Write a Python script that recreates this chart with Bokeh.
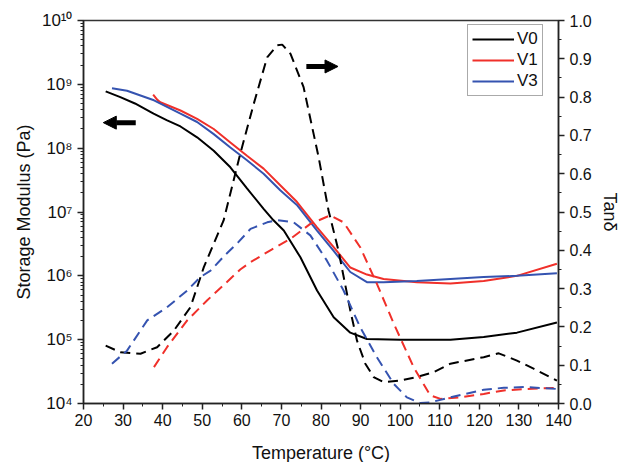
from bokeh.plotting import figure
from bokeh.models import (Range1d, LinearAxis, Legend, LegendItem, Arrow, NormalHead,
                          FixedTicker, LinearScale)
from bokeh.embed import file_html
from bokeh.resources import INLINE

# ---- Storage modulus (log10 Pa) ----
v0_T = [25.6, 29.3, 33.0, 37.7, 41.0, 44.5, 48.7, 52.9, 57.1, 61.3, 65.5, 68.0, 70.6, 74.8, 79.0, 83.2, 87.4, 91.6, 100.0, 112.7, 121.1, 129.5, 139.6]
v0_G = [8.89, 8.80, 8.70, 8.54, 8.44, 8.34, 8.17, 7.96, 7.70, 7.37, 7.05, 6.87, 6.71, 6.29, 5.77, 5.35, 5.11, 5.01, 5.00, 5.00, 5.04, 5.11, 5.27]

v1_T = [37.6, 38.6, 39.4, 44.5, 48.7, 52.9, 57.1, 61.3, 65.5, 69.7, 73.9, 79.0, 83.2, 87.4, 91.6, 95.8, 104.2, 112.7, 121.1, 129.5, 139.6]
v1_G = [8.84, 8.76, 8.72, 8.59, 8.46, 8.30, 8.09, 7.88, 7.68, 7.42, 7.16, 6.76, 6.45, 6.13, 6.02, 5.95, 5.90, 5.88, 5.92, 6.00, 6.19]

v3_T = [27.2, 31.0, 37.8, 44.5, 48.7, 52.9, 57.1, 61.3, 65.5, 69.7, 73.9, 79.0, 83.2, 87.4, 91.6, 95.8, 104.2, 112.7, 121.1, 129.5, 139.6]
v3_G = [8.94, 8.90, 8.75, 8.54, 8.41, 8.22, 8.01, 7.81, 7.60, 7.34, 7.11, 6.71, 6.39, 6.06, 5.90, 5.90, 5.92, 5.95, 5.98, 6.00, 6.04]

# ---- Tan delta ----
t0_T = [25.6, 29.3, 34.4, 38.6, 42.8, 47.0, 50.4, 55.4, 59.6, 63.0, 66.4, 68.9, 70.2, 72.3, 75.6, 79.4, 81.9, 84.4, 87.4, 89.1, 91.2, 93.3, 95.8, 100.0, 104.2, 108.5, 112.7, 121.1, 124.9, 129.5, 133.7, 139.6]
t0_D = [0.151, 0.134, 0.130, 0.147, 0.190, 0.251, 0.356, 0.478, 0.652, 0.782, 0.904, 0.935, 0.937, 0.913, 0.826, 0.643, 0.504, 0.400, 0.243, 0.164, 0.104, 0.069, 0.056, 0.060, 0.069, 0.082, 0.104, 0.121, 0.131, 0.112, 0.091, 0.060]

t1_T = [37.8, 41.1, 46.2, 51.2, 56.0, 59.6, 62.2, 67.2, 72.3, 77.3, 82.3, 85.7, 89.9, 94.1, 98.4, 103.4, 107.6, 110.2, 115.2, 121.1, 126.2, 132.1, 139.6]
t1_D = [0.095, 0.147, 0.217, 0.269, 0.315, 0.350, 0.369, 0.400, 0.430, 0.469, 0.491, 0.473, 0.408, 0.313, 0.208, 0.095, 0.021, 0.012, 0.016, 0.025, 0.034, 0.038, 0.041]

t3_T = [27.2, 31.0, 36.1, 41.1, 46.2, 49.5, 52.1, 56.0, 59.0, 62.2, 66.4, 68.9, 73.1, 77.3, 81.5, 85.7, 89.9, 94.1, 98.4, 101.7, 105.1, 107.6, 112.7, 121.1, 126.2, 131.3, 139.6]
t3_D = [0.104, 0.138, 0.217, 0.251, 0.295, 0.330, 0.347, 0.390, 0.420, 0.456, 0.473, 0.479, 0.473, 0.439, 0.373, 0.295, 0.199, 0.121, 0.051, 0.016, 0.001, 0.003, 0.016, 0.036, 0.041, 0.043, 0.038]

x_ticks = [20, 30, 40, 50, 60, 70, 80, 90, 100, 110, 120, 130, 140]
y_ticks = [1e4, 1e5, 1e6, 1e7, 1e8, 1e9, 1e10]
y_tick_labels = ["10\u2074", "10\u2075", "10\u2076", "10\u2077", "10\u2078", "10\u2079", "10\u00b9\u2070"]
tan_ticks = [0.0, 0.1, 0.2, 0.3, 0.4, 0.5, 0.6, 0.7, 0.8, 0.9, 1.0]

BLACK = "#000000"
RED = "#f0302a"
BLUE = "#3553b0"
FONT = "Liberation Sans"

p = figure(frame_width=475, frame_height=383, y_axis_type="log",
           x_range=Range1d(20, 140), y_range=Range1d(1e4, 1e10),
           output_backend="svg", toolbar_location=None,
           min_border_left=83, min_border_right=60, min_border_top=20, min_border_bottom=51)
p.extra_y_ranges = {"tan": Range1d(0, 1)}
p.extra_y_scales = {"tan": LinearScale()}
p.grid.visible = False
p.outline_line_color = "#333333"
p.outline_line_width = 1.5
p.background_fill_color = "white"
p.border_fill_color = "white"

G = lambda arr: [10 ** v for v in arr]

r0 = p.line(v0_T, G(v0_G), line_color=BLACK, line_width=2)
r1 = p.line(v1_T, G(v1_G), line_color=RED, line_width=2)
r3 = p.line(v3_T, G(v3_G), line_color=BLUE, line_width=2)

p.line(t0_T, t0_D, y_range_name="tan", line_color=BLACK, line_width=2, line_dash="10 6")
p.line(t1_T, t1_D, y_range_name="tan", line_color=RED, line_width=2, line_dash="10 6")
p.line(t3_T, t3_D, y_range_name="tan", line_color=BLUE, line_width=2, line_dash="10 6")

# axes styling
xa = p.xaxis[0]
xa.ticker = FixedTicker(ticks=x_ticks, minor_ticks=[25 + 10 * i for i in range(12)])
xa.axis_label = "Temperature (\u00b0C)"
ya = p.yaxis[0]
ya.ticker = FixedTicker(ticks=y_ticks,
                        minor_ticks=[m * 10 ** e for e in range(4, 10) for m in range(2, 10)])
ya.major_label_overrides = {t: l for t, l in zip(y_ticks, y_tick_labels)}
ya.axis_label = "Storage Modulus (Pa)"

ra = LinearAxis(y_range_name="tan", axis_label="Tan\u03b4",
                ticker=FixedTicker(ticks=tan_ticks, minor_ticks=[0.05 + 0.1 * i for i in range(10)]))
ra.major_label_overrides = {t: "%.1f" % t for t in tan_ticks}
p.add_layout(ra, "right")

for ax in [xa, ya, ra]:
    ax.axis_line_color = "#222222"
    ax.axis_line_width = 1.5
    ax.major_tick_line_color = "#222222"
    ax.minor_tick_line_color = "#222222"
    ax.major_tick_line_width = 1.5
    ax.minor_tick_line_width = 1
    ax.major_tick_out = 6
    ax.major_tick_in = 0
    ax.minor_tick_out = 3
    ax.minor_tick_in = 0
    ax.major_label_text_font = FONT
    ax.major_label_text_font_size = "16px"
    ax.major_label_text_color = "#111111"
    ax.axis_label_text_font = FONT
    ax.axis_label_text_font_size = "18px"
    ax.axis_label_text_font_style = "normal"
    ax.axis_label_text_color = "#111111"
ya.major_label_text_font_size = "17px"
xa.major_label_standoff = 4
xa.axis_label_standoff = 14
ya.axis_label_standoff = 5
ra.axis_label_standoff = 5

# arrows (annotations)
p.add_layout(Arrow(end=NormalHead(size=13, fill_color=BLACK, line_color=BLACK),
                   x_start=33.2, y_start=10 ** 8.40, x_end=25.0, y_end=10 ** 8.40,
                   line_width=5, line_color=BLACK))
p.add_layout(Arrow(end=NormalHead(size=13, fill_color=BLACK, line_color=BLACK),
                   x_start=76.3, y_start=10 ** 9.28, x_end=84.3, y_end=10 ** 9.28,
                   line_width=5, line_color=BLACK))

legend = Legend(items=[LegendItem(label="V0", renderers=[r0]),
                       LegendItem(label="V1", renderers=[r1]),
                       LegendItem(label="V3", renderers=[r3])],
                location=(384, 307))
legend.label_text_font = FONT
legend.label_text_font_size = "17px"
legend.label_text_color = "#111111"
legend.glyph_width = 42
legend.glyph_height = 20
legend.label_height = 20
legend.spacing = 1
legend.padding = 4
legend.margin = 0
legend.label_standoff = 3
legend.border_line_color = "#555555"
legend.border_line_width = 1
legend.background_fill_alpha = 1
p.add_layout(legend, "center")

open("out.html", "w").write(file_html(p, INLINE))
